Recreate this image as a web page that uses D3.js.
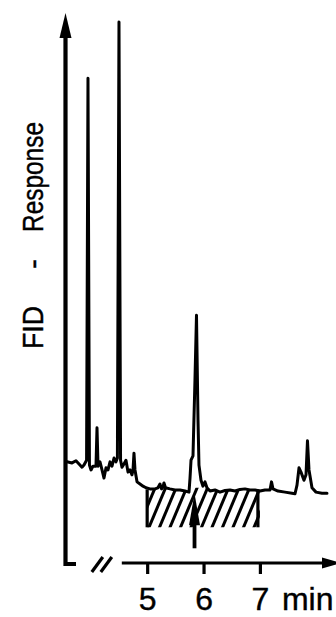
<!DOCTYPE html>
<html>
<head>
<meta charset="utf-8">
<script src="https://cdn.jsdelivr.net/npm/d3@7"></script>
<style>
  body { margin: 0; background: #fff; }
  svg { display: block; }
  text { font-family: "Liberation Sans", Arial, sans-serif; fill: #000; stroke: #000; stroke-width: 0.4px; }
</style>
</head>
<body>
<div id="vis"></div>
<script>
// retention time (min) and FID signal (arbitrary units, tallest peak = 100)
var time = [3.578, 3.666, 3.737, 3.791, 3.844, 3.879, 3.925, 3.950, 3.976, 4.004,
    4.039, 4.092, 4.110, 4.128, 4.163, 4.199, 4.234, 4.270, 4.305, 4.341,
    4.376, 4.412, 4.447, 4.472, 4.500, 4.528, 4.553, 4.589, 4.624, 4.660,
    4.695, 4.731, 4.749, 4.766, 4.784, 4.820, 4.873, 4.926, 4.979, 5.050,
    5.139, 5.191, 5.227, 5.254, 5.280, 5.298, 5.325, 5.404, 5.493, 5.582,
    5.671, 5.742, 5.760, 5.778, 5.813, 5.848, 5.875, 5.902, 5.919, 5.955,
    5.990, 6.026, 6.061, 6.115, 6.203, 6.292, 6.381, 6.469, 6.558, 6.647,
    6.735, 6.824, 6.913, 7.002, 7.090, 7.179, 7.206, 7.232, 7.321, 7.445,
    7.569, 7.623, 7.658, 7.694, 7.729, 7.782, 7.818, 7.844, 7.871, 7.924,
    7.995, 8.101, 8.190];
var response = [18.7, 18.5, 18.9, 18.3, 17.7, 18.1, 19.0, 89.6, 18.1, 17.2,
    17.9, 17.9, 25.0, 17.9, 18.7, 17.2, 15.7, 17.6, 17.2, 18.7,
    17.9, 19.4, 18.7, 19.4, 100, 19.0, 17.7, 18.3, 19.0, 16.8,
    17.2, 16.3, 17.2, 20.3, 17.2, 15.0, 14.6, 14.2, 13.9, 13.7,
    13.7, 13.9, 14.6, 13.7, 14.0, 14.8, 13.9, 13.7, 13.5, 13.5,
    13.3, 13.1, 15.7, 19.0, 19.8, 33.8, 45.8, 26.4, 18.1, 15.3,
    14.2, 15.0, 13.9, 13.3, 13.5, 13.1, 13.4, 13.5, 13.3, 13.6,
    13.7, 13.5, 13.5, 13.3, 13.5, 13.5, 15.0, 13.7, 13.3, 13.1,
    12.9, 12.8, 14.4, 17.6, 16.8, 15.3, 16.3, 22.6, 17.2, 13.9,
    13.1, 12.9, 12.9];

var tick_values = [5, 6, 7];
var x_unit = 'min';
var y_label = ['FID', '-', 'Response'];
var cut_window = [5, 7];     // hatched heart-cut, min
var cut_floor = 6.6;         // lower edge of hatching, signal units
var cut_arrow = 5.84;        // min
var axis_start = 4.55;       // time axis drawn after the break

var width = 336, height = 617;

var svg = d3.select('#vis')
    .append('svg')
    .attr('width', width)
    .attr('height', height);

var x_scale = d3.scaleLinear()
    .domain([3.56, 8.35])
    .range([66, 336]);

var y_scale = d3.scaleLinear()
    .domain([0, 100])
    .range([563, 22]);

var y0 = y_scale(0);
var ax = x_scale.range()[0] - 0.5;

// y axis with arrow and small foot
svg.append('path')
    .attr('d', 'M' + ax + ',36V' + (y0 + 1) + 'H76')
    .attr('fill', 'none')
    .attr('stroke', '#000')
    .attr('stroke-width', 4.2);
svg.append('path')
    .attr('d', 'M' + ax + ',13L' + (ax - 6) + ',38L' + (ax + 6) + ',38Z')
    .attr('fill', '#000');

// x axis: break marks, line, arrow
var bx = x_scale(axis_start);
[0, 1].forEach(function(i) {
  svg.append('line')
      .attr('x1', bx - 30 + i * 9).attr('y1', y0 + 9)
      .attr('x2', bx - 19 + i * 9).attr('y2', y0 - 6)
      .attr('stroke', '#000')
      .attr('stroke-width', 3.2);
});
svg.append('line')
    .attr('x1', bx).attr('y1', y0)
    .attr('x2', 326).attr('y2', y0)
    .attr('stroke', '#000')
    .attr('stroke-width', 3.2);
svg.append('path')
    .attr('d', 'M322,' + (y0 - 5.5) + 'L341,' + y0 + 'L322,' + (y0 + 5.5) + 'Z')
    .attr('fill', '#000');

var x_axis = d3.axisBottom(x_scale)
    .tickValues(tick_values)
    .tickSize(11)
    .tickSizeOuter(0)
    .tickFormat(d3.format('d'));

var gx = svg.append('g')
    .attr('transform', 'translate(0,' + y0 + ')')
    .call(x_axis);
gx.select('.domain').remove();
gx.selectAll('.tick line')
    .attr('stroke', '#000')
    .attr('stroke-width', 3.2);
gx.selectAll('.tick text')
    .attr('y', 47)
    .attr('dy', 0)
    .attr('font-size', 32)
    .attr('font-family', '"Liberation Sans", Arial, sans-serif');

svg.append('text')
    .attr('x', x_scale(7) + 22)
    .attr('y', y0 + 47)
    .attr('font-size', 32)
    .text(x_unit);

// y label
var yl = svg.append('text')
    .attr('transform', 'rotate(-90)')
    .attr('font-size', 30);
yl.append('tspan').attr('x', -349).attr('y', 43)
    .attr('textLength', 43).attr('lengthAdjust', 'spacingAndGlyphs')
    .text(y_label[0]);
yl.append('tspan').attr('x', -269).attr('y', 43)
    .text(y_label[1]);
yl.append('tspan').attr('x', -232).attr('y', 43)
    .attr('textLength', 110).attr('lengthAdjust', 'spacingAndGlyphs')
    .text(y_label[2]);

// hatched cut window under the trace
var pts = time.map(function(t, i) { return [t, response[i]]; });
var cut_pts = pts.filter(function(d) { return d[0] >= cut_window[0] && d[0] <= cut_window[1]; });
var y_floor = y_scale(cut_floor);

var clip_area = d3.area()
    .x(function(d) { return x_scale(d[0]); })
    .y0(y_floor)
    .y1(function(d) { return y_scale(Math.min(d[1], 13.9)); });

svg.append('clipPath')
    .attr('id', 'cut')
    .append('path')
    .attr('d', clip_area([[cut_window[0], 13.9]].concat(cut_pts, [[cut_window[1], 13.3]])));

var hatch = svg.append('g').attr('clip-path', 'url(#cut)');
for (var hx = x_scale(cut_window[0]) - 20; hx < x_scale(cut_window[1]) + 5; hx += 10.5) {
  hatch.append('line')
      .attr('x1', hx).attr('y1', y_floor + 2)
      .attr('x2', hx + 0.42 * 50).attr('y2', y_floor - 48)
      .attr('stroke', '#000')
      .attr('stroke-width', 3);
}
cut_window.forEach(function(t, i) {
  svg.append('line')
      .attr('x1', x_scale(t) - i * 2).attr('y1', y_scale(13.6))
      .attr('x2', x_scale(t) - i * 2).attr('y2', y_floor)
      .attr('stroke', '#000')
      .attr('stroke-width', 3.2);
});

// arrow marking the cut peak
var arx = x_scale(cut_arrow);
svg.append('line')
    .attr('x1', arx).attr('y1', y_floor + 21)
    .attr('x2', arx).attr('y2', y_floor - 6)
    .attr('stroke', '#000')
    .attr('stroke-width', 3.8);
svg.append('path')
    .attr('d', 'M' + arx + ',' + (y_floor - 34) + 'L' + (arx - 5.5) + ',' + (y_floor - 2) +
               'L' + (arx + 5.5) + ',' + (y_floor - 2) + 'Z')
    .attr('fill', '#000');

// chromatogram trace
var line = d3.line()
    .x(function(d) { return x_scale(d[0]); })
    .y(function(d) { return y_scale(d[1]); });

svg.append('path')
    .datum(pts)
    .attr('d', line)
    .attr('fill', 'none')
    .attr('stroke', '#000')
    .attr('stroke-width', 3)
    .attr('stroke-linejoin', 'round')
    .attr('stroke-linecap', 'round');
</script>
</body>
</html>
